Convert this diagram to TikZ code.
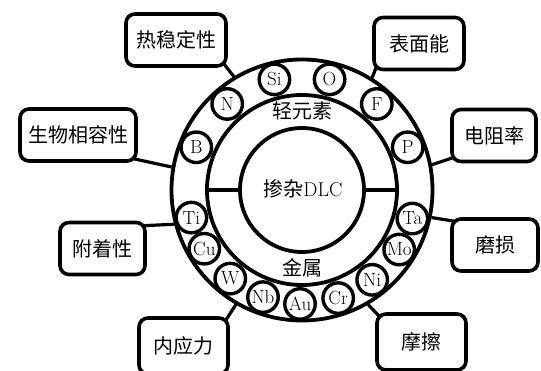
\documentclass[tikz,border=0pt]{standalone}
\usepackage{fontspec}
\newfontfamily\cjk{Noto Sans CJK SC}
\usetikzlibrary{calc,backgrounds}
\newcommand\elemfont{\fontsize{19}{22}\selectfont}
\begin{document}
\begin{tikzpicture}[x=1pt,y=-1pt,
  ringline/.style={draw, circle, line width=3.8pt, inner sep=0pt},
  elem/.style={draw, circle, fill=white, line width=3.4pt, minimum size=30.5pt, inner sep=0pt},
  prop/.style={draw, rounded corners=9pt, fill=white, line width=3.6pt, inner sep=0pt, minimum height=52pt, font=\cjk\fontsize{20}{24}\selectfont},
  conn/.style={line width=3.2pt},
  lab/.style={font=\cjk\fontsize{20}{24}\selectfont, inner sep=0pt}]
\useasboundingbox (0,0) rectangle (541,371);
\clip (0,0) rectangle (541,371);
\coordinate (c) at (302,190);
\node[ringline, minimum size=261pt] (ring) at (c) {};
\node[ringline, minimum size=190pt] (mid) at (c) {};
\node[ringline, minimum size=124pt] (dlc) at (c) {};
\draw[conn] (dlc.west) -- (mid.west);
\draw[conn] (dlc.east) -- (mid.east);
\foreach \a/\t/\n in {22/P/eP, 49/F/eF, 76/O/eO, 104/Si/eSi, 131/N/eN, 158/B/eB,
  194/Ti/eTi, 211/Cu/eCu, 231/W/eW, 250/Nb/eNb, 269/Au/eAu, 288.5/Cr/eCr, 308/Ni/eNi, 328.5/Mo/eMo, 345.5/Ta/eTa}
  \node[elem] (\n) at ($(c)+(-\a:114)$) {\elemfont\t};
\node[lab] (light) at (302,111) {轻元素};
\node[lab] (metal) at (302,268) {金属};
\node[lab] (core) at (303,189) {掺杂{\rmfamily DLC}};
\node[prop, minimum width=100pt] (heat) at (176,40) {热稳定性};
\node[prop, minimum width=90pt] (surf) at (419,43.5) {表面能};
\node[prop, minimum width=116pt] (bio) at (78,135) {生物相容性};
\node[prop, minimum width=84pt] (res) at (494,135.5) {电阻率};
\node[prop, minimum width=85pt] (adh) at (102.5,248.5) {附着性};
\node[prop, minimum width=86pt] (wear) at (495,245) {磨损};
\node[prop, minimum width=89pt, minimum height=56pt] (stress) at (183.5,346) {内应力};
\node[prop, minimum width=89pt, minimum height=56pt] (fric) at (421.5,342) {摩擦};
\begin{pgfonlayer}{background}
\draw[conn] ($(heat.south east)+(-4,-4)$) -- (ring.121.6);
\draw[conn] ($(surf.south west)+(4,-4)$) -- (ring.58);
\draw[conn] ($(bio.south east)+(-4,-4)$) -- (ring.170);
\draw[conn] ($(res.south west)+(4,-6)$) -- (ring.11.5);
\draw[conn] ($(adh.north east)+(-4,5)$) -- (ring.195.5);
\draw[conn] ($(wear.north west)+(4,4)$) -- (ring.-12);
\draw[conn] ($(stress.north east)+(-4,4)$) -- (ring.240);
\draw[conn] ($(fric.north west)+(4,4)$) -- (ring.300);
\end{pgfonlayer}
\end{tikzpicture}
\end{document}
